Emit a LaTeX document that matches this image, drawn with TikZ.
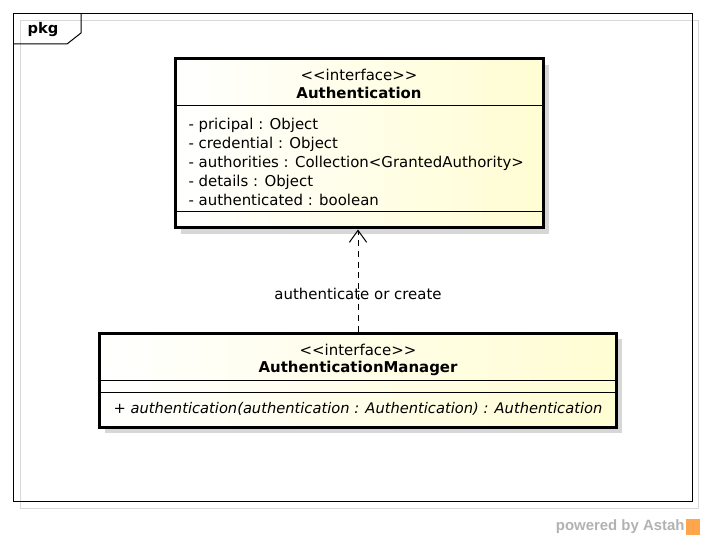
\documentclass[tikz,border=0pt]{standalone}
\usepackage{fontspec}
\setmainfont{DejaVu Sans}
\newfontfamily\poweredfont{Liberation Sans}
\usetikzlibrary{arrows.meta}

\definecolor{astahyellow}{RGB}{255,253,210}
\definecolor{shadowgray}{RGB}{215,215,215}

\tikzset{every picture/.style={line width=0.75pt}}
\tikzset{
	classbox/.style={draw, line width=2.25, rectangle, left color=white, right color=astahyellow, inner sep=0pt},
	classshadow/.style={fill=shadowgray, draw=none},
	umltext/.style={font=\fontsize{11.2}{14.25}\selectfont, inner sep=0pt},
	dependency/.style={dashed, dash pattern=on 4.5pt off 3.5pt, -{Straight Barb[length=9pt,width=13pt,line width=0.75pt]}}
}

\begin{document}
\begin{tikzpicture}[x=0.75pt,y=0.75pt,yscale=-1,xscale=1]
	\useasboundingbox (0,0) rectangle (705,541);
	
	%Shape: Frame shadow
	\draw [shadowgray]  (20,21) rectangle (698,508) ;
	%Shape: Frame
	\draw  (13,14) rectangle (692,501) ;
	%Straight Lines: tab
	\draw  (13,44) -- (67,44) -- (81,33) -- (81,14) ;
	%Text Node
	\node [umltext, font=\fontsize{11}{12}\selectfont\bfseries] (pkglabel) at (43,30) {pkg};
	
	%Shape: Rectangle shadows
	\fill [classshadow]  (181,65) rectangle (549,234) ;
	\fill [classshadow]  (105,339) rectangle (622,433) ;
	
	%Shape: Rectangle Authentication
	\node [classbox, minimum width=276pt, minimum height=126.75pt] (auth) at (359,143.5) {};
	\draw  (auth.west |- 0,106) -- (auth.east |- 0,106) ;
	\draw  (auth.west |- 0,212) -- (auth.east |- 0,212) ;
	%Text Node
	\node [umltext] (authstereo) at (359,75) {{<}{<}interface{>}{>}};
	\node [umltext, font=\fontsize{11.2}{14.25}\selectfont\bfseries] (authname) at (359,93) {Authentication};
	\node [umltext, anchor=north west, align=left] (authattrs) at (188,118) {- pricipal : Object\\- credential : Object\\- authorities : Collection{<}GrantedAuthority{>}\\- details : Object\\- authenticated : boolean};
	
	%Shape: Rectangle AuthenticationManager
	\node [classbox, minimum width=387.75pt, minimum height=70.5pt] (authmgr) at (357.5,380) {};
	\draw  (authmgr.west |- 0,380) -- (authmgr.east |- 0,380) ;
	\draw  (authmgr.west |- 0,392) -- (authmgr.east |- 0,392) ;
	%Text Node
	\node [umltext] (mgrstereo) at (358,350) {{<}{<}interface{>}{>}};
	\node [umltext, font=\fontsize{11.2}{14.25}\selectfont\bfseries] (mgrname) at (358,368) {AuthenticationManager};
	\node [umltext, font=\fontsize{11}{14.25}\selectfont\itshape] (mgrop) at (358,409) {+ authentication(authentication : Authentication) : Authentication};
	
	%Straight Lines: dependency
	\draw [dependency]  (authmgr.north -| 358,0) -- (auth.south -| 358,0) ;
	\node [umltext] (deplabel) at (358,294) {authenticate or create};
	
	%Text Node: powered by
	\node [inner sep=0pt, anchor=east, text=black!30, font=\poweredfont\fontsize{11.2}{12}\selectfont\bfseries] (powered) at (685,527) {powered by Astah};
	\fill [orange!70]  (686,519) rectangle (700,535) ;
	
\end{tikzpicture}
\end{document}
